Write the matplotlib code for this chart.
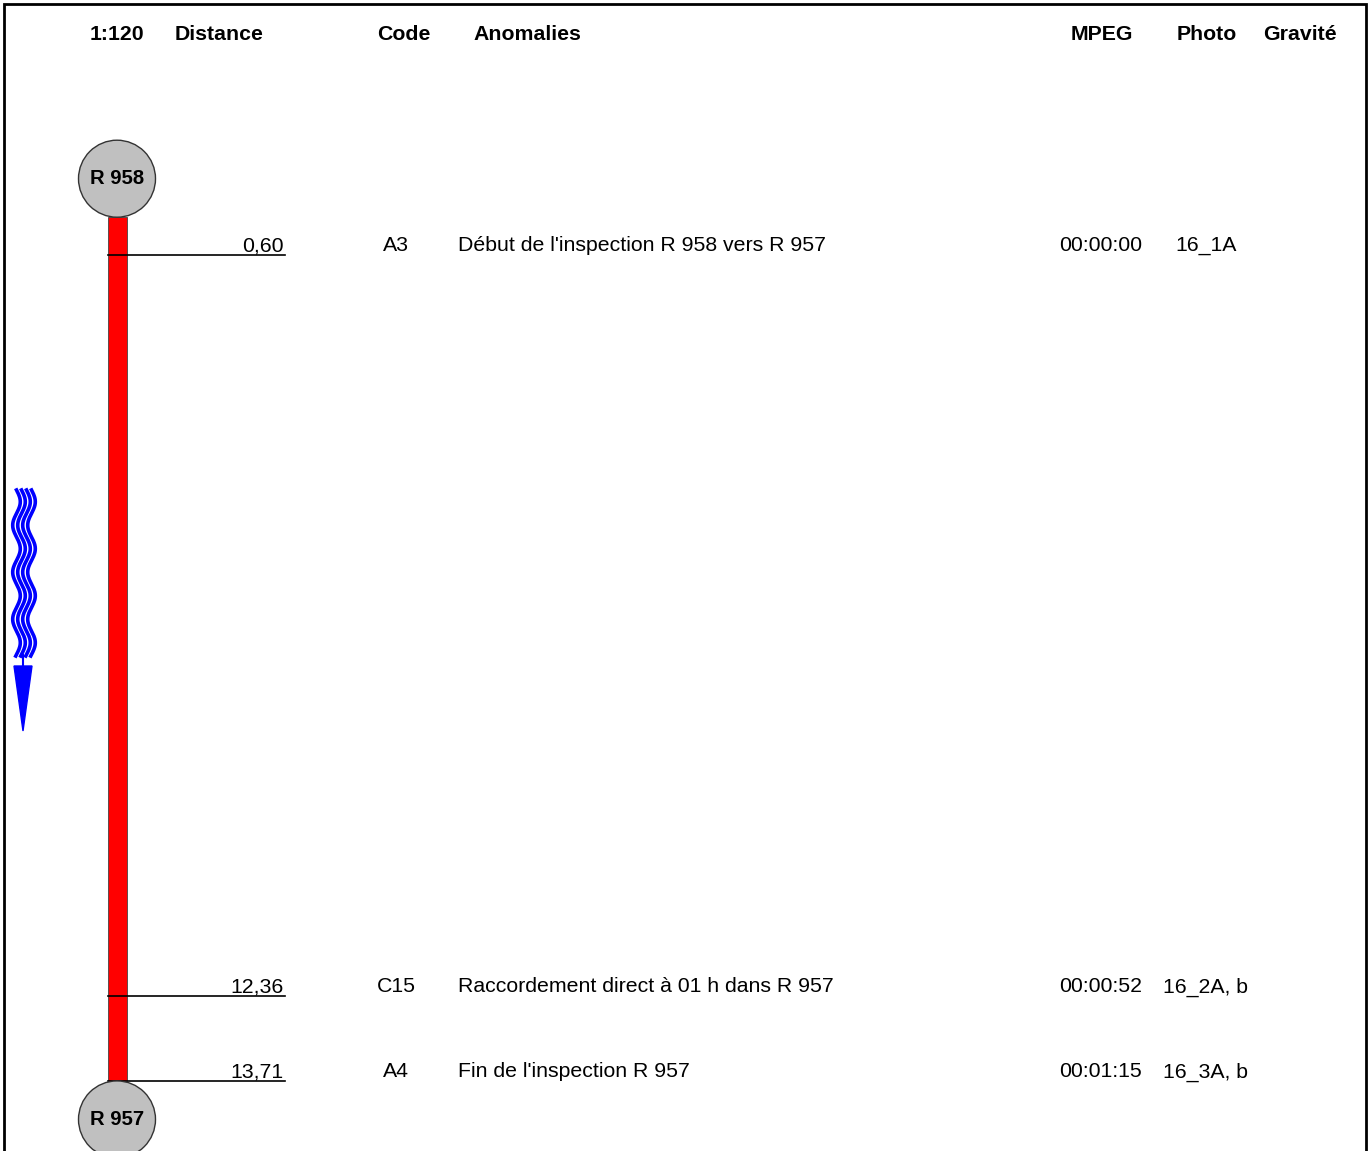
import numpy as np
import matplotlib
matplotlib.use("Agg")
import matplotlib.pyplot as plt
from matplotlib.patches import Rectangle, Ellipse, Polygon

plt.rcParams['font.family'] = ['Liberation Sans', 'DejaVu Sans']

# ---- data ----
scale_label = "1:120"
headers = ["Distance", "Code", "Anomalies", "MPEG", "Photo", "Gravité"]
nodes = ["R 958", "R 957"]
pipe_length = 13.71
distances = [0.60, 12.36, 13.71]
dist_labels = ["0,60", "12,36", "13,71"]
codes = ["A3", "C15", "A4"]
anomalies = ["Début de l'inspection R 958 vers R 957",
             "Raccordement direct à 01 h dans R 957",
             "Fin de l'inspection R 957"]
mpeg = ["00:00:00", "00:00:52", "00:01:15"]
photos = ["16_1A", "16_2A, b", "16_3A, b"]

W, H = 1370, 1151
PX_PER_M = 63.0
Y0 = 217.2  # pixel y of distance 0

fig = plt.figure(figsize=(W / 100, H / 100), dpi=100)
# layout axes in pixel coordinates
lay = fig.add_axes([0, 0, 1, 1])
lay.set_xlim(0, W)
lay.set_ylim(H, 0)
lay.axis('off')
# data axes: x in pixels, y in metres along the pipe
ax = fig.add_axes([0, 0, 1, 1])
ax.set_xlim(0, W)
ax.set_ylim((H - Y0) / PX_PER_M, (0 - Y0) / PX_PER_M)
ax.axis('off')
ax.patch.set_alpha(0)

fs = 15.3
# border
lay.plot([4, 4, 1366, 1366], [H, 4, 4, H], color='black', lw=2, solid_joinstyle='miter')

# header
lay.text(117, 34.5, scale_label, ha='center', va='center', fontsize=fs, fontweight='bold')
hx = [175, 404, 473, 1071, 1177, 1263]
ha_list = ['left', 'center', 'left', 'left', 'left', 'left']
for x, t, h in zip(hx, headers, ha_list):
    lay.text(x, 34.5, t, ha=h, va='center', fontsize=fs, fontweight='bold')

# pipe
m_per_px = 1 / PX_PER_M
ax.add_patch(Rectangle((108, 0), 19, pipe_length, facecolor='#ff0000',
                       edgecolor='#444444', lw=0.6, zorder=2))

# nodes
r = 38.5
for name, d in zip(nodes, [0 - r * m_per_px, pipe_length + r * m_per_px]):
    ax.add_patch(Ellipse((117, d), 2 * r, 2 * r * m_per_px, facecolor='#c0c0c0',
                         edgecolor='#333333', lw=1, zorder=4))
    ax.text(117, d, name, ha='center', va='center', fontsize=14.6,
            fontweight='bold', zorder=5)

# observations
text_off = 9 * m_per_px
for d, dl, c, a, m, p in zip(distances, dist_labels, codes, anomalies, mpeg, photos):
    ax.plot([108, 285], [d, d], color='black', lw=1.2, zorder=3)
    yt = d - text_off
    ax.text(284, yt, dl, ha='right', va='center', fontsize=fs)
    ax.text(396, yt, c, ha='center', va='center', fontsize=fs)
    ax.text(458, yt, a, ha='left', va='center', fontsize=fs)
    ax.text(1059, yt, m, ha='left', va='center', fontsize=fs)
    ax.text(1206, yt, p, ha='center', va='center', fontsize=fs)

# flow direction symbol (decoration)
yy = np.linspace(490, 656, 200)
for k in range(4):
    xx = 16.5 + 5 * k + 3.8 * np.sin((yy - 490) / 47 * 2 * np.pi)
    lay.plot(xx, yy, color='#0000ff', lw=2.6)
lay.plot([23, 23], [655, 668], color='#0000ff', lw=1.5)
lay.add_patch(Polygon([[14, 666], [32, 666], [23, 731]], closed=True,
                      facecolor='#0000ff', edgecolor='#0000ff'))

fig.savefig("out.png", dpi=100)
